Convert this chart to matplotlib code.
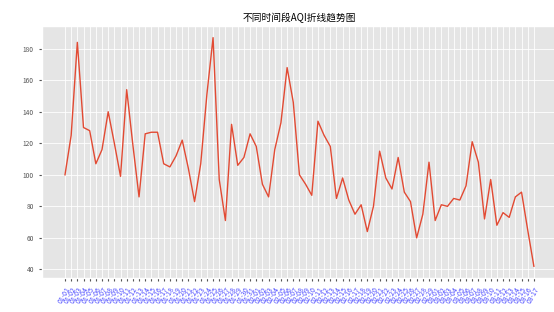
import matplotlib
matplotlib.use('Agg')
import matplotlib.pyplot as plt
import pandas as pd

# AQI readings
aqi = [100, 125, 184, 130, 128, 107, 116, 140, 120, 99,
       154, 119, 86, 126, 127, 127, 107, 105, 112, 122,
       104, 83, 107, 151, 187, 97, 71, 132, 106, 111,
       126, 118, 94, 86, 116, 133, 168, 146, 100, 94,
       87, 134, 125, 118, 85, 98, 84, 75, 81, 64,
       80, 115, 98, 91, 111, 89, 83, 60, 75, 108,
       71, 81, 80, 85, 84, 93, 121, 108, 72, 97,
       68, 76, 73, 86, 89, 65, 42]

# date labels along the x axis
dates = [d.strftime('%m-%d') for d in pd.date_range('2020-01-01', periods=len(aqi))]

plt.style.use('ggplot')
plt.rcParams['font.family'] = ['Noto Sans CJK SC', 'DejaVu Sans']
plt.rcParams['axes.unicode_minus'] = False

fig = plt.figure(figsize=(5.54, 3.12), dpi=100)
ax = fig.add_axes([0.075, 0.11, 0.931, 0.806])

ax.plot(dates, aqi, color='#E24A33', linewidth=1.0)

ax.set_title('不同时间段AQI折线趋势图', fontsize=7, pad=4)
ax.grid(color='white', linewidth=0.6)
ax.set_yticks([40, 60, 80, 100, 120, 140, 160, 180])
ax.tick_params(axis='y', labelsize=4.8, colors='#555555', length=2)
ax.tick_params(axis='x', length=2, colors='#555555')
for lbl in ax.get_xticklabels():
    lbl.set_rotation(60)
    lbl.set_ha('right')
    lbl.set_rotation_mode('anchor')
    lbl.set_fontsize(5)
    lbl.set_color('#4a4aff')

fig.savefig('out.png', dpi=100)
